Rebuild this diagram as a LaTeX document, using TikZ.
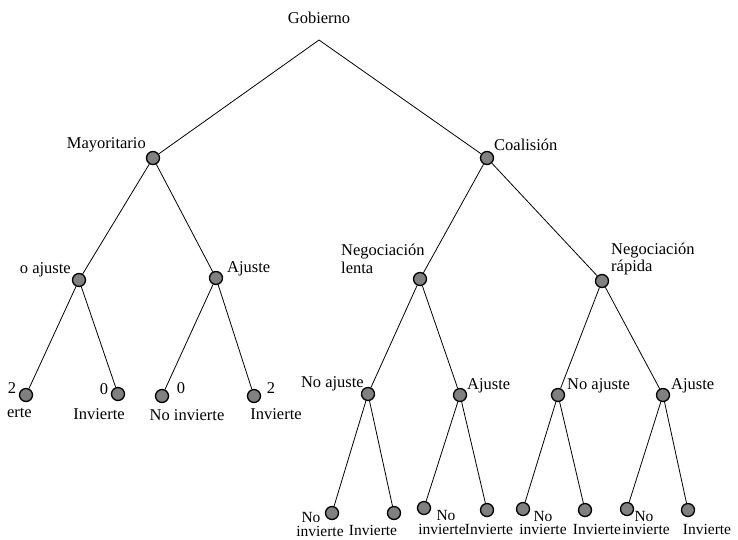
\documentclass[tikz,border=0pt]{standalone}
\usepackage{fontspec}
\setmainfont{Liberation Serif}
\begin{document}
\begin{tikzpicture}[x=1pt,y=-1pt,
  every node/.style={font=\fontsize{16.5}{17.5}\selectfont, inner sep=0pt},
  leaf/.style={font=\fontsize{15.5}{16.5}\selectfont, text height=8pt, text depth=1pt},
  dot/.style={circle,draw=black,fill=black!50,minimum size=13pt,line width=1.3pt},
  edge/.style={line width=0.8pt}]
\useasboundingbox (0,0) rectangle (738,539);
% nodes
\coordinate (root) at (319,40);
\node[dot] (may) at (153,158) {};
\node[dot] (coa) at (487,158) {};
\node[dot] (lna) at (79,280) {};
\node[dot] (la) at (216,278) {};
\node[dot] (l1) at (26,395) {};
\node[dot] (l2) at (118,394) {};
\node[dot] (l3) at (162,396) {};
\node[dot] (l4) at (254,396) {};
\node[dot] (nl) at (420,279) {};
\node[dot] (nr) at (602,281) {};
\node[dot] (a1) at (368,394) {};
\node[dot] (a2) at (460,395) {};
\node[dot] (a3) at (558,395) {};
\node[dot] (a4) at (663,395) {};
\node[dot] (r1) at (332,513) {};
\node[dot] (r2) at (394,513) {};
\node[dot] (r3) at (424,508) {};
\node[dot] (r4) at (487,510) {};
\node[dot] (r5) at (523,509) {};
\node[dot] (r6) at (585,510) {};
\node[dot] (r7) at (627,509) {};
\node[dot] (r8) at (688,510) {};
% edges
\draw[edge] (root) -- (may);
\draw[edge] (root) -- (coa);
\draw[edge] (may) -- (lna);
\draw[edge] (may) -- (la);
\draw[edge] (lna) -- (l1);
\draw[edge] (lna) -- (l2);
\draw[edge] (la) -- (l3);
\draw[edge] (la) -- (l4);
\draw[edge] (coa) -- (nl);
\draw[edge] (coa) -- (nr);
\draw[edge] (nl) -- (a1);
\draw[edge] (nl) -- (a2);
\draw[edge] (nr) -- (a3);
\draw[edge] (nr) -- (a4);
\draw[edge] (a1) -- (r1);
\draw[edge] (a1) -- (r2);
\draw[edge] (a2) -- (r3);
\draw[edge] (a2) -- (r4);
\draw[edge] (a3) -- (r5);
\draw[edge] (a3) -- (r6);
\draw[edge] (a4) -- (r7);
\draw[edge] (a4) -- (r8);
% labels
\node (tgob) at (319,18) {Gobierno};
\node[anchor=east] (tmay) at (146,145) {Mayoritario};
\node[anchor=west] (tcoa) at (494,145) {Coalisión};
\node[anchor=east] (tlna) at (71,270) {o ajuste};
\node[anchor=west] (tla) at (227,269) {Ajuste};
\node (p1) at (12,388) {2};
\node[anchor=east] (t1) at (32,413) {erte};
\node (p2) at (104,389) {0};
\node (t2) at (99,414) {Invierte};
\node (p3) at (181,388) {0};
\node (t3) at (187,415) {No invierte};
\node (p4) at (271,388) {2};
\node (t4) at (276,414) {Invierte};
\node[anchor=west,align=left] (tnl) at (341,259) {Negociación\\lenta};
\node[anchor=west,align=left] (tnr) at (611,259) {Negociación\\rápida};
\node[anchor=east] (ta1) at (364,384) {No ajuste};
\node[anchor=west] (ta2) at (467,386) {Ajuste};
\node[anchor=west] (ta3) at (567,386) {No ajuste};
\node[anchor=west] (ta4) at (671,386) {Ajuste};
\node[leaf] (n1) at (311,519) {No};
\node[leaf] (i1) at (320,533) {invierte};
\node[leaf] (v1) at (373,532) {Invierte};
\node[leaf] (n2) at (446,517) {No};
\node[leaf] (i2) at (442,531) {invierte};
\node[leaf] (v2) at (489,531) {Invierte};
\node[leaf] (n3) at (543,518) {No};
\node[leaf] (i3) at (543,531) {invierte};
\node[leaf] (v3) at (597,531) {Invierte};
\node[leaf] (n4) at (644,518) {No};
\node[leaf] (i4) at (646,531) {invierte};
\node[leaf] (v4) at (707,531) {Invierte};
\end{tikzpicture}
\end{document}
